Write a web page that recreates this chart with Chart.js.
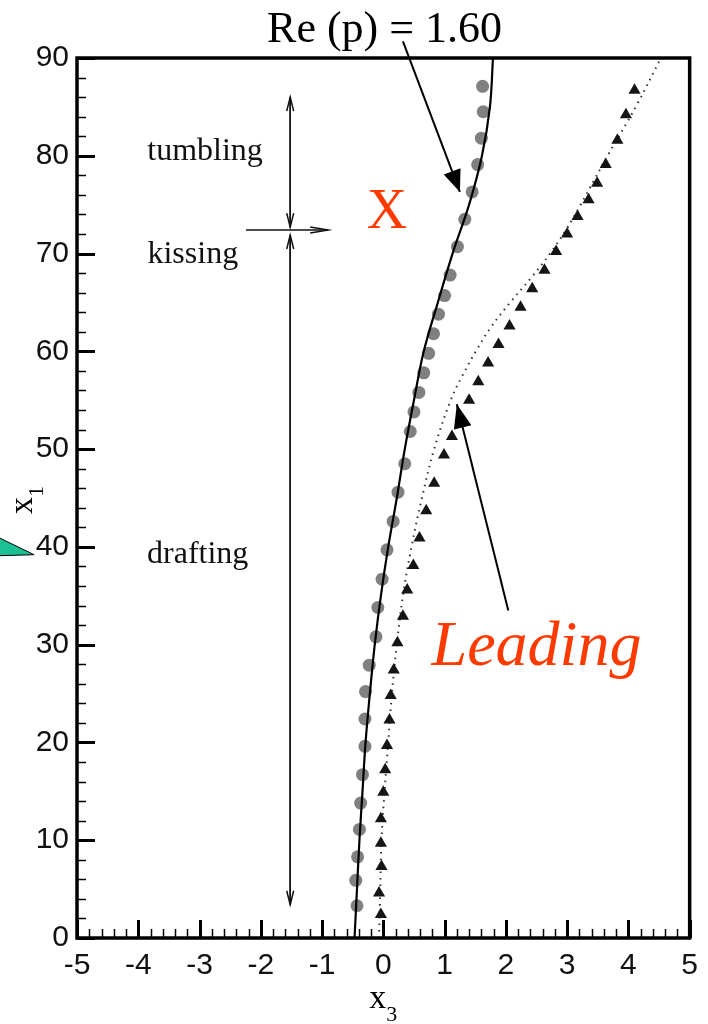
<!DOCTYPE html>
<html>
<head>
<meta charset="utf-8">
<script src="https://cdn.jsdelivr.net/npm/chart.js@4.4.1/dist/chart.umd.min.js"></script>
<style>
  html, body { margin: 0; padding: 0; background: #fff; }
</style>
</head>
<body>
<canvas id="chart" width="708" height="1024"></canvas>
<script>
// axis ranges
const xRange = [-5, 5];
const yRange = [0, 90];

// solid curve (simulation)
const curveX1 = [0, 5, 10, 15, 20, 25, 30, 35, 40, 45, 50, 55, 60, 65, 70, 75, 80, 85, 90];
const curveX3 = [-0.47, -0.43, -0.39, -0.34, -0.29, -0.22, -0.14, -0.04, 0.08, 0.22, 0.35, 0.5, 0.66, 0.89, 1.13, 1.4, 1.61, 1.74, 1.79];

// dotted curve (leading)
const dotX1 = [0, 5, 10, 15, 20, 25, 30, 35, 40, 45, 50, 55, 57.5, 60, 62.5, 65, 67.5, 70, 72.5, 75, 77.5, 80, 85, 90];
const dotX3 = [-0.07, -0.05, -0.03, 0.02, 0.08, 0.14, 0.22, 0.32, 0.46, 0.63, 0.83, 1.1, 1.29, 1.51, 1.76, 2.07, 2.41, 2.72, 2.99, 3.22, 3.44, 3.66, 4.12, 4.53];

// grey circles
const circX1 = [3.3, 5.9, 8.3, 11.1, 13.8, 16.7, 19.6, 22.4, 25.2, 27.9, 30.8, 33.8, 36.7, 39.7, 42.6, 45.6, 48.5, 51.8, 53.8, 55.8, 57.8, 59.8, 61.8, 63.8, 65.7, 67.8, 70.7, 73.5, 76.3, 79.1, 81.8, 84.5, 87.1];
const circX3 = [-0.43, -0.45, -0.42, -0.39, -0.37, -0.34, -0.30, -0.30, -0.29, -0.23, -0.12, -0.09, -0.02, 0.06, 0.16, 0.24, 0.35, 0.44, 0.50, 0.58, 0.66, 0.74, 0.82, 0.9, 1.0, 1.09, 1.21, 1.33, 1.45, 1.54, 1.60, 1.63, 1.62];

// black triangles
const triX1 = [2.4, 4.6, 7.3, 9.7, 12.2, 14.9, 17.2, 19.7, 22.3, 24.8, 27.4, 30.2, 32.9, 35.6, 38.1, 40.9, 43.7, 46.5, 49.4, 51.3, 53.2, 55.0, 56.9, 58.8, 60.7, 62.6, 64.5, 66.4, 68.3, 70.2, 72.0, 73.8, 75.5, 77.2, 79.1, 81.6, 84.2, 86.7];
const triX3 = [-0.04, -0.07, -0.03, -0.04, -0.04, 0.0, 0.03, 0.06, 0.10, 0.12, 0.17, 0.23, 0.32, 0.39, 0.49, 0.59, 0.70, 0.83, 0.99, 1.12, 1.26, 1.40, 1.55, 1.71, 1.88, 2.06, 2.24, 2.43, 2.63, 2.82, 3.00, 3.17, 3.35, 3.49, 3.63, 3.82, 3.96, 4.10];

function pts(xs, ys) {
    return xs.map((v, i) => ({ x: ys[i], y: v }));
}

const serif = '"Liberation Serif", "Times New Roman", serif';
const sans = '"Liberation Sans", Arial, sans-serif';
const red = '#ff3a00';

function arrowHead(ctx, x1, y1, x2, y2, len, half, filled) {
    const a = Math.atan2(y2 - y1, x2 - x1);
    const bx = x2 - len * Math.cos(a), by = y2 - len * Math.sin(a);
    const nx = -Math.sin(a) * half, ny = Math.cos(a) * half;
    ctx.beginPath();
    ctx.moveTo(bx + nx, by + ny);
    ctx.lineTo(x2, y2);
    ctx.lineTo(bx - nx, by - ny);
    if (filled) {
        ctx.closePath();
        ctx.fill();
    } else {
        ctx.stroke();
    }
}

function arrow(ctx, x1, y1, x2, y2, len, half, filled) {
    ctx.beginPath();
    ctx.moveTo(x1, y1);
    ctx.lineTo(x2, y2);
    ctx.stroke();
    arrowHead(ctx, x1, y1, x2, y2, len, half, filled);
}

const decorations = {
    id: 'decorations',
    afterDraw(chart) {
        const { ctx, chartArea: a, scales: { x, y } } = chart;
        const P = (xv, yv) => [x.getPixelForValue(xv), y.getPixelForValue(yv)];
        ctx.save();

        // inward ticks
        ctx.strokeStyle = '#000';
        for (let i = 0; i <= 50; i++) {
            const v = xRange[0] + i * 0.2;
            const major = i % 5 === 0;
            const px = Math.round(x.getPixelForValue(v)) + 0.5;
            ctx.lineWidth = major ? 3 : 1.5;
            ctx.beginPath();
            ctx.moveTo(px, a.bottom);
            ctx.lineTo(px, a.bottom - (major ? 18 : 9));
            ctx.stroke();
        }
        for (let i = 0; i <= 45; i++) {
            const v = yRange[0] + i * 2;
            const major = i % 5 === 0;
            const py = Math.round(y.getPixelForValue(v)) + 0.5;
            ctx.lineWidth = major ? 3 : 1.5;
            ctx.beginPath();
            ctx.moveTo(a.left, py);
            ctx.lineTo(a.left + (major ? 18 : 9), py);
            ctx.stroke();
        }

        // frame
        ctx.lineWidth = 3.5;
        ctx.strokeRect(a.left, a.top, a.right - a.left, a.bottom - a.top);

        // axis titles
        ctx.fillStyle = '#000';
        ctx.textAlign = 'left';
        ctx.textBaseline = 'alphabetic';
        const cx = (a.left + a.right) / 2;
        ctx.font = '34px ' + serif;
        ctx.fillText('x', cx - 14, 1008);
        ctx.font = '22px ' + serif;
        ctx.fillText('3', cx + 3, 1021);

        ctx.save();
        ctx.translate(32, 514);
        ctx.rotate(-Math.PI / 2);
        ctx.font = '34px ' + serif;
        ctx.fillText('x', 0, 0);
        ctx.font = '22px ' + serif;
        ctx.fillText('1', 17, 11);
        ctx.restore();

        // Re label and arrow
        let p = P(0.02, 91.6);
        ctx.font = '44px ' + serif;
        ctx.textAlign = 'center';
        ctx.fillText('Re (p) = 1.60', p[0], p[1]);
        ctx.lineWidth = 2;
        ctx.strokeStyle = '#000';
        let s = P(0.32, 91.7), t = P(1.25, 76.3);
        arrow(ctx, s[0], s[1], t[0], t[1], 22, 9, true);

        // red labels
        ctx.fillStyle = red;
        p = P(0.06, 72.6);
        ctx.font = '56px ' + serif;
        ctx.fillText('X', p[0], p[1]);
        p = P(2.5, 27.9);
        ctx.font = 'italic 64px ' + serif;
        ctx.fillText('Leading', p[0], p[1]);

        // Leading arrow
        ctx.fillStyle = '#000';
        s = P(2.04, 33.5); t = P(1.2, 54.6);
        arrow(ctx, s[0], s[1], t[0], t[1], 24, 9, true);

        // regime labels
        ctx.font = '32px ' + serif;
        ctx.fillStyle = '#111';
        p = P(-2.91, 79.6); ctx.fillText('tumbling', p[0], p[1]);
        p = P(-3.11, 69.0); ctx.fillText('kissing', p[0], p[1]);
        p = P(-3.03, 38.4); ctx.fillText('drafting', p[0], p[1]);

        // regime arrows
        ctx.lineWidth = 1.5;
        ctx.strokeStyle = '#111';
        const top = P(-1.52, 86.0), mid1 = P(-1.52, 72.7), mid2 = P(-1.52, 71.9), bot = P(-1.52, 3.4);
        arrow(ctx, mid1[0], mid1[1], top[0], top[1], 14, 3.5, false);
        arrow(ctx, top[0], top[1], mid1[0], mid1[1], 14, 3.5, false);
        arrow(ctx, bot[0], bot[1], mid2[0], mid2[1], 14, 3.5, false);
        arrow(ctx, mid2[0], mid2[1], bot[0], bot[1], 14, 3.5, false);
        s = P(-2.24, 72.4); t = P(-0.9, 72.4);
        arrow(ctx, s[0], s[1], t[0], t[1], 18, 3, false);

        // green wedge at the left edge
        ctx.fillStyle = '#1dbf95';
        ctx.strokeStyle = '#000';
        ctx.lineWidth = 1;
        const g1 = P(-6.26, 40.9), g2 = P(-5.7, 39.2), g3 = P(-6.26, 39.1);
        ctx.beginPath();
        ctx.moveTo(g1[0], g1[1]);
        ctx.lineTo(g2[0], g2[1]);
        ctx.lineTo(g3[0], g3[1]);
        ctx.closePath();
        ctx.fill();
        ctx.beginPath();
        ctx.moveTo(g1[0], g1[1]);
        ctx.lineTo(g2[0], g2[1]);
        ctx.lineTo(g3[0], g3[1]);
        ctx.stroke();

        ctx.restore();
    }
};

new Chart(document.getElementById('chart'), {
    type: 'scatter',
    data: {
        datasets: [
            {
                label: 'curve',
                data: pts(curveX1, curveX3),
                showLine: true,
                borderColor: '#000',
                borderWidth: 2.2,
                pointRadius: 0,
                tension: 0.35
            },
            {
                label: 'circles',
                data: pts(circX1, circX3),
                pointStyle: 'circle',
                pointRadius: 6.5,
                backgroundColor: '#808080',
                borderColor: '#808080',
                borderWidth: 0
            },
            {
                label: 'triangles',
                data: pts(triX1, triX3),
                pointStyle: 'triangle',
                pointRadius: 7,
                backgroundColor: '#151515',
                borderColor: '#151515',
                borderWidth: 0
            },
            {
                label: 'leading',
                data: pts(dotX1, dotX3),
                showLine: true,
                borderColor: '#333',
                borderWidth: 2,
                borderDash: [1.5, 5],
                pointRadius: 0,
                tension: 0.4
            }
        ]
    },
    options: {
        responsive: false,
        animation: false,
        layout: { padding: { top: 58, right: 13, left: 0, bottom: 0 } },
        plugins: {
            legend: { display: false },
            tooltip: { enabled: false }
        },
        scales: {
            x: {
                type: 'linear',
                min: xRange[0],
                max: xRange[1],
                grid: { display: false, drawTicks: false },
                border: { display: false },
                ticks: {
                    stepSize: 1,
                    padding: 10,
                    color: '#111',
                    font: { family: sans, size: 30 }
                },
                afterFit(scale) { scale.height = 86; }
            },
            y: {
                type: 'linear',
                min: yRange[0],
                max: yRange[1],
                grid: { display: false, drawTicks: false },
                border: { display: false },
                ticks: {
                    stepSize: 10,
                    padding: 8,
                    color: '#111',
                    font: { family: sans, size: 30 }
                },
                afterFit(scale) { scale.width = 77; }
            }
        }
    },
    plugins: [decorations]
});
</script>
</body>
</html>
